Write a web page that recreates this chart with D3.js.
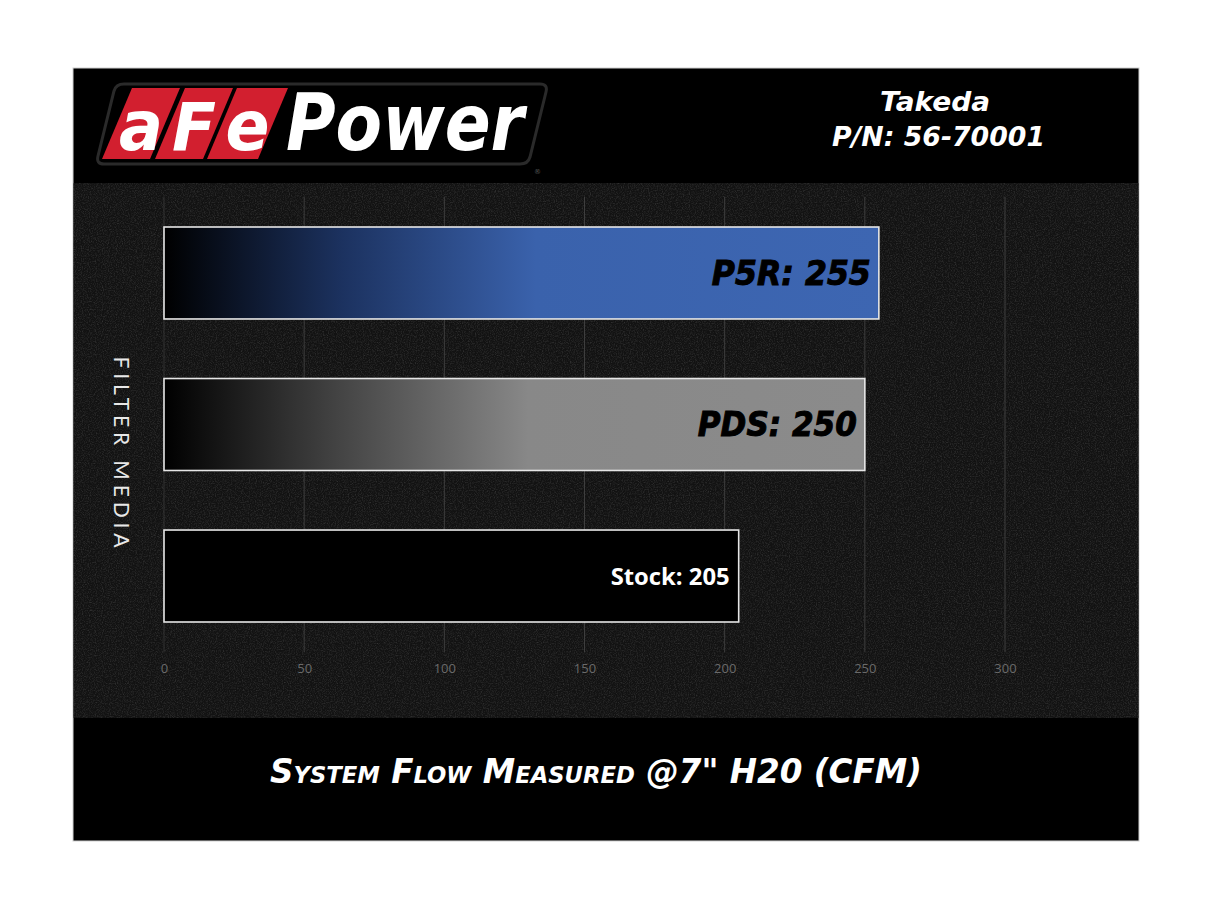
<!DOCTYPE html>
<html><head><meta charset="utf-8">
<script src="https://cdn.jsdelivr.net/npm/d3@7"></script>
<style>html,body{margin:0;padding:0;background:#fff;}svg{display:block;}</style>
</head><body>
<script>
const categories = ["P5R", "PDS", "Stock"];
const values = [255, 250, 205];
const barLabels = ["P5R: 255", "PDS: 250", "Stock: 205"];
const tickValues = [0, 50, 100, 150, 200, 250, 300];
const xTitle = "System Flow Measured @7\" H20 (CFM)";
const yTitle = "FILTER MEDIA";
const headerLines = ["Takeda", "P/N: 56-70001"];

const W = 1214, H = 911;
const svg = d3.select("body").append("svg").attr("width", W).attr("height", H);
const defs = svg.append("defs");

// noise texture
const f = defs.append("filter").attr("id", "noise").attr("x", 0).attr("y", 0).attr("width", "100%").attr("height", "100%");
f.append("feTurbulence").attr("type", "fractalNoise").attr("baseFrequency", 0.85).attr("numOctaves", 3).attr("seed", 4).attr("result", "t");
f.append("feColorMatrix").attr("type", "matrix")
  .attr("values", "0 0 0 0 1  0 0 0 0 1  0 0 0 0 1  0.6 0 0 0 -0.25");

// gradients
const g1 = defs.append("linearGradient").attr("id", "gBlue");
g1.append("stop").attr("offset", "0%").attr("stop-color", "#000");
g1.append("stop").attr("offset", "25%").attr("stop-color", "#1c3260");
g1.append("stop").attr("offset", "52%").attr("stop-color", "#3a62ac");
g1.append("stop").attr("offset", "100%").attr("stop-color", "#3d66b2");
const g2 = defs.append("linearGradient").attr("id", "gGray");
g2.append("stop").attr("offset", "0%").attr("stop-color", "#000");
g2.append("stop").attr("offset", "25%").attr("stop-color", "#444");
g2.append("stop").attr("offset", "52%").attr("stop-color", "#888");
g2.append("stop").attr("offset", "100%").attr("stop-color", "#8b8b8b");
const fills = ["url(#gBlue)", "url(#gGray)", "#000"];

// panel
svg.append("rect").attr("x", 73).attr("y", 68).attr("width", 1066).attr("height", 773)
  .attr("fill", "#000").attr("stroke", "#cfcfcf").attr("stroke-width", 1);
// textured chart area
svg.append("rect").attr("x", 73.5).attr("y", 183).attr("width", 1065).attr("height", 535).attr("fill", "#121212");
svg.append("rect").attr("x", 73.5).attr("y", 183).attr("width", 1065).attr("height", 535).attr("fill", "#fff")
  .attr("filter", "url(#noise)").attr("opacity", 0.45);

// scales
const x = d3.scaleLinear().domain([0, 300]).range([164, 1005]);
const y = d3.scaleBand().domain(categories).range([196.7, 652.3]).paddingInner(0.393).paddingOuter(0.2);

// gridlines
svg.append("g").selectAll("line").data(tickValues.filter(d => d > 0)).join("line")
  .attr("x1", d => x(d)).attr("x2", d => x(d))
  .attr("y1", y.range()[0]).attr("y2", y.range()[1])
  .attr("stroke", "#3e3e3e").attr("stroke-width", 1);
svg.append("line").attr("x1", x(0)).attr("x2", x(0)).attr("y1", y.range()[0]).attr("y2", y.range()[1])
  .attr("stroke", "#333").attr("stroke-width", 1);

// axis tick labels
const axis = d3.axisBottom(x).tickValues(tickValues).tickSize(0).tickPadding(0);
const ax = svg.append("g").attr("transform", "translate(0,664)").call(axis);
ax.select(".domain").remove();
ax.selectAll("text").attr("fill", "#6a6a6a").attr("font-family", "Open Sans").attr("font-size", 13).attr("dy", "0.71em");

// bars
svg.append("g").selectAll("rect").data(values).join("rect")
  .attr("x", x(0)).attr("y", (d, i) => y(categories[i]))
  .attr("width", d => x(d) - x(0)).attr("height", y.bandwidth())
  .attr("fill", (d, i) => fills[i])
  .attr("stroke", "#e6e6e6").attr("stroke-width", 1.6);

// bar labels
const lbl = svg.append("g");
lbl.selectAll("text").data(values).join("text")
  .attr("x", (d, i) => x(d) - (i === 2 ? 9 : 8))
  .attr("y", (d, i) => y(categories[i]) + y.bandwidth() / 2)
  .attr("text-anchor", "end")
  .attr("dy", "0.36em")
  .attr("font-family", (d, i) => i === 2 ? "Open Sans" : "DejaVu Sans")
  .attr("font-weight", "bold")
  .attr("font-style", (d, i) => i === 2 ? "normal" : "italic")
  .attr("font-size", (d, i) => i === 2 ? 24 : 33)
  .attr("fill", (d, i) => i === 2 ? "#fff" : "#000")
  .attr("stroke", (d, i) => i === 2 ? "none" : "#000")
  .attr("stroke-width", 1)
  .attr("textLength", (d, i) => i === 2 ? 119 : 159)
  .attr("lengthAdjust", "spacingAndGlyphs")
  .text((d, i) => barLabels[i]);

// y title
svg.append("text").attr("transform", "translate(114,452) rotate(90)")
  .attr("text-anchor", "middle").attr("font-family", "Lato").attr("font-size", 21)
  .attr("fill", "#e8e8e8").attr("textLength", 191).attr("lengthAdjust", "spacing")
  .text(yTitle);

// x title
svg.append("text").attr("x", 270).attr("y", 783)
  .attr("font-family", "DejaVu Sans").attr("font-weight", "bold").attr("font-style", "italic")
  .attr("font-variant", "small-caps").attr("font-size", 33).attr("fill", "#fff")
  .attr("textLength", 652).attr("lengthAdjust", "spacingAndGlyphs")
  .text(xTitle);

// header right
svg.append("text").attr("x", 880).attr("y", 111)
  .attr("font-family", "DejaVu Sans").attr("font-weight", "bold").attr("font-style", "italic")
  .attr("font-size", 26).attr("fill", "#fff").attr("textLength", 110).attr("lengthAdjust", "spacingAndGlyphs")
  .text(headerLines[0]);
svg.append("text").attr("x", 832).attr("y", 146)
  .attr("font-family", "DejaVu Sans").attr("font-weight", "bold").attr("font-style", "italic")
  .attr("font-size", 26).attr("fill", "#fff").attr("textLength", 213).attr("lengthAdjust", "spacingAndGlyphs")
  .text(headerLines[1]);

// logo
const logo = svg.append("g");
logo.append("path")
  .attr("d", "M128,84 L540,84 Q548,84 546,92 L530,157 Q528,164 520,164 L104,164 Q96,164 98,156 L114,91 Q116,84 124,84 Z")
  .attr("fill", "#000").attr("stroke", "#2a2a2a").attr("stroke-width", 3);
const boxes = [[132, 180], [185, 233], [237, 288]];
boxes.forEach(b => {
  logo.append("path")
    .attr("d", `M${b[0]},88 L${b[1]},88 L${b[1] - 30},159 L${b[0] - 30},159 Z`)
    .attr("fill", "#d21f2f");
});
const letters = ["a", "F", "e"];
letters.forEach((l, i) => {
  const cx = (boxes[i][0] + boxes[i][1]) / 2 - 15;
  logo.append("text").attr("x", cx).attr("y", 150).attr("text-anchor", "middle")
    .attr("font-family", "DejaVu Sans").attr("font-weight", "bold").attr("font-style", "italic")
    .attr("font-size", i === 1 ? 66 : 70).attr("fill", "#fff")
    .attr("textLength", 44).attr("lengthAdjust", "spacingAndGlyphs")
    .text(l);
});
logo.append("text").attr("x", 286).attr("y", 150)
  .attr("font-family", "DejaVu Sans").attr("font-weight", "bold").attr("font-style", "italic")
  .attr("font-size", 78).attr("fill", "#fff").attr("textLength", 238).attr("lengthAdjust", "spacingAndGlyphs")
  .text("Power");
logo.append("text").attr("x", 534).attr("y", 174)
  .attr("font-family", "DejaVu Sans").attr("font-size", 7).attr("fill", "#555").text("®");
</script>
</body></html>
